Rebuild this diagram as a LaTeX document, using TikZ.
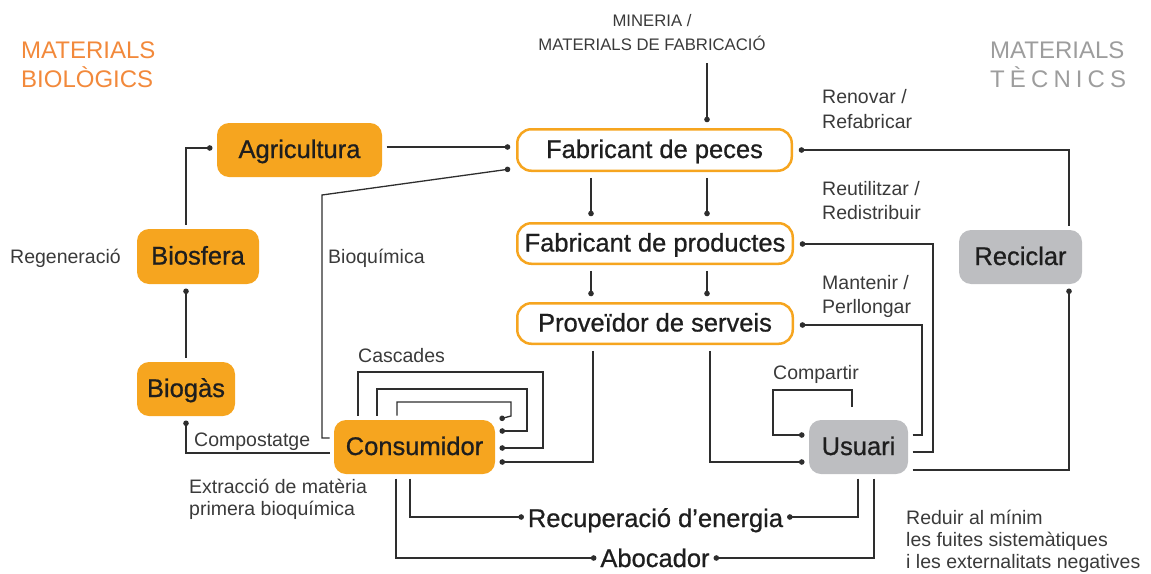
\documentclass[tikz,border=0pt]{standalone}
\usepackage{fontspec}
\setmainfont{Liberation Sans}
\newfontfamily\nodefont{Liberation Sans}[FakeBold=0.8]
\usetikzlibrary{arrows.meta}
\definecolor{orfill}{HTML}{F6A51F}
\definecolor{grfill}{HTML}{BDBEC1}
\definecolor{ttlor}{HTML}{F2893B}
\definecolor{ttlgr}{HTML}{9D9D9D}
\definecolor{linec}{HTML}{2E2E2E}
\definecolor{txtc}{HTML}{1E1E1E}
\definecolor{lblc}{HTML}{3A3A3A}
\newcommand\twoline[2]{\begin{tabular}[t]{@{}l@{}}#1\\#2\end{tabular}}
\tikzset{
  box/.style={rounded corners=12pt, inner sep=0pt, outer sep=4.5pt,
    font=\nodefont\fontsize{25.5}{30}\selectfont, text=txtc,
    text height=18pt, text depth=2pt},
  obox/.style={box, fill=orfill},
  gbox/.style={box, fill=grfill},
  wbox/.style={box, draw=orfill, line width=2.5pt, fill=white, rounded corners=14pt, outer sep=7pt},
  endtext/.style={font=\nodefont\fontsize{25.5}{30}\selectfont, text=txtc, inner sep=0pt, outer sep=4pt, anchor=base},
  lbl/.style={font=\fontsize{19.5}{24}\selectfont, text=lblc, inner sep=0pt, anchor=base west},
  ttl/.style={font=\fontsize{24}{29}\selectfont, inner sep=0pt, anchor=base west},
  conn/.style={draw=linec, line width=1.3pt},
  dotend/.style={-{Circle[length=5.5pt]}},
}
\begin{document}
\begin{tikzpicture}[x=1pt,y=-1pt]
\useasboundingbox (0,0) rectangle (1151,573);
% titles
\node[ttl, text=ttlor] (tbio) at (21,58) {\twoline{MATERIALS}{BIOLÒGICS}};
\node[ttl, text=ttlgr] (ttec) at (990,58) {\twoline{MATERIALS}{\makebox[136pt][s]{T\hfil È\hfil C\hfil N\hfil I\hfil C\hfil S}}};
\node[font=\fontsize{16.7}{24}\selectfont, text=lblc, inner sep=0pt, anchor=base] (min) at (652,26)
  {\begin{tabular}[t]{@{}c@{}}MINERIA /\\MATERIALS DE FABRICACIÓ\end{tabular}};
% boxes
\node[obox, minimum width=165pt, minimum height=54pt] (agri) at (299.5,150) {Agricultura};
\node[obox, minimum width=122pt, minimum height=55pt] (bio) at (198,256.5) {Biosfera};
\node[obox, minimum width=98pt, minimum height=54pt] (biog) at (186,389) {Biogàs};
\node[obox, minimum width=161pt, minimum height=54pt] (cons) at (414.5,447) {Consumidor};
\node[gbox, minimum width=99pt, minimum height=54pt] (usu) at (858.5,447) {Usuari};
\node[gbox, minimum width=123pt, minimum height=54pt] (recic) at (1020.5,257) {Reciclar};
\node[wbox, minimum width=274.5pt, minimum height=41.5pt] (fp) at (654.5,150) {Fabricant de peces};
\node[wbox, minimum width=275.5pt, minimum height=40.5pt] (fpr) at (655,243.5) {Fabricant de productes};
\node[wbox, minimum width=275.5pt, minimum height=40.5pt] (prov) at (655,323.5) {Proveïdor de serveis};
\node[endtext] (recup) at (655.5,527) {Recuperació d’energia};
\node[endtext] (aboc) at (655,567) {Abocador};
% labels
\node[lbl] (lreg) at (10,263) {Regeneració};
\node[lbl] (lbioq) at (328,263) {Bioquímica};
\node[lbl] (lcomp) at (194,446) {Compostatge};
\node[lbl, font=\fontsize{19.5}{22}\selectfont] (lext) at (189,493) {\twoline{Extracció de matèria}{primera bioquímica}};
\node[lbl] (lcasc) at (358,362) {Cascades};
\node[lbl] (lcompart) at (773,379) {Compartir};
\node[lbl, font=\fontsize{19.5}{25}\selectfont] (lren) at (822,103) {\twoline{Renovar /}{Refabricar}};
\node[lbl] (lreu) at (822,195) {\twoline{Reutilitzar /}{Redistribuir}};
\node[lbl] (lman) at (822,289) {\twoline{Mantenir /}{Perllongar}};
\node[lbl, font=\fontsize{19.5}{22}\selectfont] (lred) at (906,524)
  {\begin{tabular}[t]{@{}l@{}}Reduir al mínim\\les fuites sistemàtiques\\i les externalitats negatives\end{tabular}};
% connectors
\coordinate (minend) at (707,63);
\draw[conn, dotend] (minend) -- (fp.north -| minend);
\draw[conn, dotend] (agri.east |- 0,147) -- (fp.west |- 0,147);
\draw[conn, dotend] (bio.north -| 186,0) -- (186,148) -- (agri.west |- 0,148);
\draw[conn, dotend] (biog.north) -- (bio.south -| biog.north);
\draw[conn, dotend] (cons.west |- 0,453) -- (186,453) -- (biog.south);
\draw[conn, dotend] (cons.west |- 0,438) -- (322,438) -- (322,195) -- (fp.west |- 0,169);
\draw[conn, dotend] (fp.south -| 591,0) -- (fpr.north -| 591,0);
\draw[conn, dotend] (fp.south -| 707,0) -- (fpr.north -| 707,0);
\draw[conn, dotend] (fpr.south -| 591,0) -- (prov.north -| 591,0);
\draw[conn, dotend] (fpr.south -| 707,0) -- (prov.north -| 707,0);
\draw[conn, dotend] (prov.south -| 593,0) -- (593,462) -- (cons.east |- 0,462);
\draw[conn, dotend] (prov.south -| 710,0) -- (710,462) -- (usu.west |- 0,462);
% cascades
\draw[conn, dotend] (cons.north -| 358,0) -- (358,372) -- (543,372) -- (543,448) -- (cons.east |- 0,448);
\draw[conn, dotend] (cons.north -| 377,0) -- (377,389) -- (527,389) -- (527,431) -- (cons.east |- 0,431);
\draw[conn, dotend] (cons.north -| 397,0) -- (397,402) -- (511,402) -- (511,416) -- (cons.east |- 0,419);
% bottom
\draw[conn, dotend] (cons.south -| 410,0) -- (410,517) -- (recup.west |- 0,517);
\draw[conn, dotend] (usu.south -| 858,0) -- (858,517) -- (recup.east |- 0,517);
\draw[conn, dotend] (cons.south -| 396,0) -- (396,558) -- (aboc.west |- 0,558);
\draw[conn, dotend] (usu.south -| 874,0) -- (874,558) -- (aboc.east |- 0,558);
% user loops
\coordinate (cmpstart) at (852,407);
\draw[conn, dotend] (cmpstart) -- (852,390) -- (773,390) -- (773,435) -- (usu.west |- 0,435);
\draw[conn, dotend] (usu.east |- 0,435) -- (922,435) -- (922,325) -- (prov.east |- 0,325);
\draw[conn, dotend] (usu.east |- 0,452) -- (933,452) -- (933,244) -- (fpr.east |- 0,244);
\draw[conn, dotend] (usu.east |- 0,470) -- (1069,470) -- (recic.south -| 1069,0);
\draw[conn, dotend] (recic.north -| 1069,0) -- (1069,150) -- (fp.east |- 0,150);
\end{tikzpicture}
\end{document}
